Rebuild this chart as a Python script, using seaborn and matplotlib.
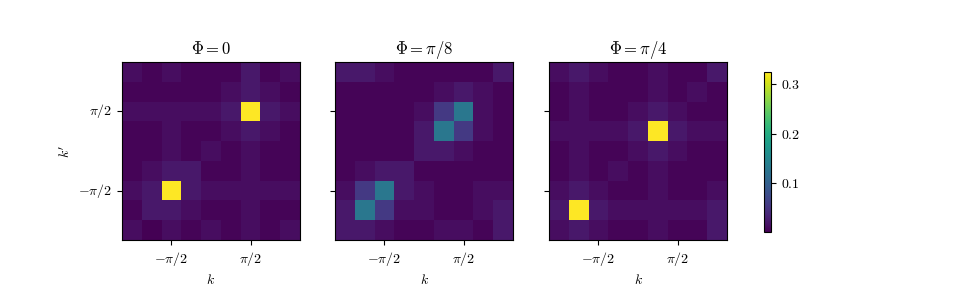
import numpy as np
import seaborn as sns
import matplotlib
matplotlib.use("Agg")
import matplotlib.pyplot as plt

# cell levels (rows: k' from pi down to -pi, cols: k from -pi to pi)
D, S, L, P = 0.004, 0.012, 0.022, 0.055
Y, T = 0.325, 0.13

phi_0 = [
    [S, D, S, D, D, D, L, D, S],
    [D, D, D, D, D, S, L, S, D],
    [S, S, S, S, S, L, Y, L, S],
    [D, D, S, D, D, S, L, S, D],
    [D, D, S, D, S, D, S, D, D],
    [D, S, L, L, D, D, S, D, D],
    [S, L, Y, L, S, S, S, S, S],
    [D, L, L, S, D, D, S, D, D],
    [S, 0.001, S, D, S, D, S, D, S],
]
phi_pi8 = [
    [L, L, S, D, D, D, D, D, L],
    [D, D, D, D, D, S, L, S, D],
    [D, D, D, D, S, P, T, S, D],
    [D, D, D, D, L, T, P, S, D],
    [D, D, D, D, L, L, S, D, D],
    [D, S, L, L, D, D, D, D, D],
    [S, P, T, L, S, D, D, S, S],
    [L, T, P, S, S, D, D, S, L],
    [L, L, S, D, D, S, S, D, L],
]
phi_pi4 = [
    [S, L, S, D, D, S, D, D, L],
    [D, S, D, D, D, S, D, S, D],
    [D, S, D, D, S, L, S, D, D],
    [S, S, S, S, L, Y, L, S, S],
    [D, S, D, D, S, L, S, D, D],
    [D, S, D, S, D, S, D, D, D],
    [S, L, S, D, D, S, D, D, S],
    [L, Y, L, S, S, S, S, S, L],
    [S, L, S, D, D, S, D, D, L],
]
titles = [r"$\Phi = 0$", r"$\Phi = \pi/8$", r"$\Phi = \pi/4$"]
x_ticklabels = [r"$-\pi/2$", r"$\pi/2$"]
y_ticklabels = [r"$\pi/2$", r"$-\pi/2$"]
cbar_ticks = [0.1, 0.2, 0.3]

plt.rcParams["mathtext.fontset"] = "cm"
plt.rcParams["font.family"] = "serif"
plt.rcParams["font.serif"] = ["cmr10", "DejaVu Serif"]
plt.rcParams["axes.formatter.use_mathtext"] = True


def main():
    panels = [phi_0, phi_pi8, phi_pi4]
    vmin = min(np.min(p) for p in panels)
    vmax = max(np.max(p) for p in panels)

    fig = plt.figure(figsize=(9.75, 3), dpi=100)
    lefts = [122 / 975, 335 / 975, 549 / 975]
    axes = [fig.add_axes([l, 0.2, 178 / 975, 178 / 300]) for l in lefts]

    for i, (ax, data) in enumerate(zip(axes, panels)):
        sns.heatmap(np.array(data), ax=ax, cmap="viridis", vmin=vmin, vmax=vmax,
                    cbar=False, square=False)
        for sp in ax.spines.values():
            sp.set_visible(True)
            sp.set_color("black")
            sp.set_linewidth(0.8)
        ax.set_xticks([2.5, 6.5])
        ax.set_xticklabels(x_ticklabels, rotation=0, fontsize=10)
        ax.set_yticks([2.5, 6.5])
        if i == 0:
            ax.set_yticklabels(y_ticklabels, rotation=0, fontsize=10)
            ax.set_ylabel(r"$k'$", fontsize=10)
        else:
            ax.set_yticklabels([])
        ax.tick_params(length=3.5, width=0.8)
        ax.set_xlabel(r"$k$", fontsize=10)
        ax.set_title(titles[i], fontsize=12)

    cax = fig.add_axes([764 / 975, 68 / 300, 7 / 975, 160 / 300])
    cb = fig.colorbar(axes[0].collections[0], cax=cax, ticks=cbar_ticks)
    cb.ax.set_yticklabels([f"${t:.1f}$" for t in cbar_ticks], fontsize=10)
    cb.outline.set_linewidth(0.8)

    fig.savefig("out.png", dpi=100)


if __name__ == "__main__":
    main()
